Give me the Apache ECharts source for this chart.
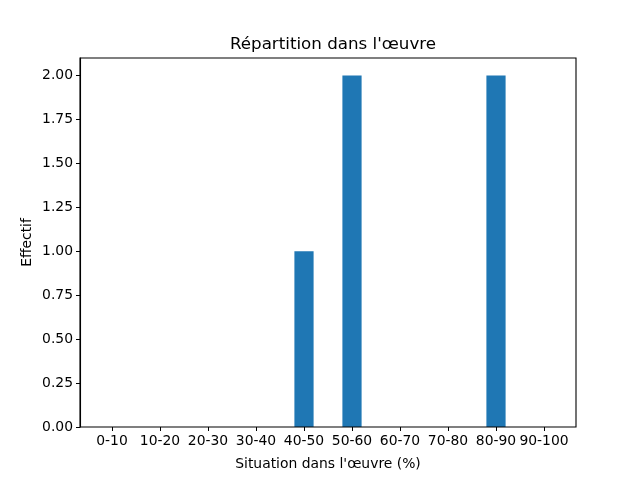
<!DOCTYPE html>
<html><head><meta charset="utf-8">
<script src="https://cdn.jsdelivr.net/npm/echarts@6/dist/echarts.min.js"></script>
<style>html,body{margin:0;padding:0;background:#fff}#c{width:640px;height:480px}</style>
</head><body><div id="c"></div>
<script>
const categories = ['0-10','10-20','20-30','30-40','40-50','50-60','60-70','70-80','80-90','90-100'];
const values = [0,0,0,0,1,2,0,0,2,0];
const titleText = "Répartition dans l'œuvre";
const xName = "Situation dans l'œuvre (%)";
const yName = "Effectif";

const F = 'DejaVu Sans';
const fs = 13.9;
const chart = echarts.init(document.getElementById('c'), null, {renderer:'canvas'});
const yCommon = {type:'value', min:0, max:2.1, interval:0.25};
chart.setOption({
  animation:false,
  backgroundColor:'#fff',
  title:{text:titleText, left:328, top:31, textAlign:'center',
    textStyle:{fontFamily:F, fontSize:16.7, fontWeight:'normal', color:'#000'}},
  grid:[
    {left:88, width:480, top:58, height:369, show:false},
    {left:80, width:496, top:58, height:369, show:true, borderColor:'#000', borderWidth:1.1, backgroundColor:'transparent', z:5}
  ],
  xAxis:[
    {type:'category', gridIndex:0, data:categories, axisLine:{show:false},
     axisTick:{show:true, alignWithLabel:true, length:4, lineStyle:{color:'#000'}},
     axisLabel:{margin:7, fontFamily:F, fontSize:fs, color:'#000', interval:0},
     name:xName, nameLocation:'middle', nameGap:30, nameMoveOverlap:false,
     nameTextStyle:{fontFamily:F, fontSize:fs, color:'#000'}},
    {type:'value', gridIndex:1, min:0, max:1, show:false}
  ],
  yAxis:[
    Object.assign({gridIndex:0, show:false}, yCommon),
    Object.assign({gridIndex:1,
     axisLine:{show:true, lineStyle:{color:'#000', width:1.1}},
     axisTick:{show:true, length:4, lineStyle:{color:'#000'}},
     splitLine:{show:false},
     axisLabel:{margin:7, fontFamily:F, fontSize:fs, color:'#000', showMaxLabel:false,
       formatter:v=>v.toFixed(2)},
     name:yName, nameLocation:'middle', nameGap:46, nameRotate:90, nameMoveOverlap:false,
     nameTextStyle:{fontFamily:F, fontSize:fs, color:'#000'}}, yCommon)
  ],
  series:[{type:'bar', xAxisIndex:0, yAxisIndex:0, data:values, barWidth:'40%',
    itemStyle:{color:'#1f77b4'}}]
});
</script></body></html>
